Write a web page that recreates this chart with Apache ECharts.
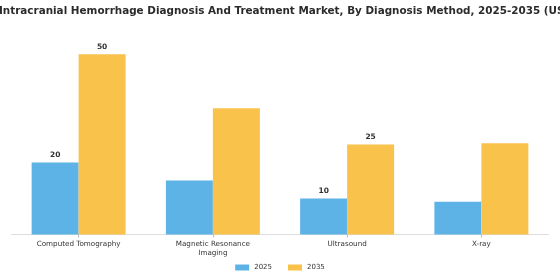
<!DOCTYPE html>
<html>
<head>
<meta charset="utf-8">
<script src="https://cdn.jsdelivr.net/npm/echarts@6/dist/echarts.min.js"></script>
<style>
html,body{margin:0;padding:0;background:#fff;}
#c{width:560px;height:280px;}
</style>
</head>
<body>
<div id="c"></div>
<script>
const titleText = "Intracranial Hemorrhage Diagnosis And Treatment Market, By Diagnosis Method, 2025-2035 (USD Billion)";
const categories = ["Computed Tomography", "Magnetic Resonance Imaging", "Ultrasound", "X-ray"];
const tickLabels = ["Computed Tomography", "Magnetic Resonance\nImaging", "Ultrasound", "X-ray"];
const seriesNames = ["2025", "2035"];
const values2025 = [20, 15, 10, 9.1];
const values2035 = [50, 35, 25, 25.3];
const labeledCategories = ["Computed Tomography", "Ultrasound"];

const colors = ["#5DB2E6", "#F8C24B"];

function buildData(vals) {
  return vals.map((v, i) => ({
    value: v,
    label: { show: labeledCategories.includes(categories[i]) }
  }));
}

const labelStyle = { position: 'top', distance: 3, fontFamily: 'DejaVu Sans', fontWeight: 'bold', fontSize: 7.5, color: '#333' };

const chart = echarts.init(document.getElementById('c'), null, { renderer: 'canvas' });
chart.setOption({
  animation: false,
  backgroundColor: '#ffffff',
  title: {
    text: titleText,
    left: -1,
    top: 6,
    padding: 0,
    textStyle: { fontFamily: 'DejaVu Sans', fontWeight: 'bold', fontSize: 10.4, color: '#2b2b2b' }
  },
  legend: {
    data: seriesNames,
    bottom: 4,
    left: 'center',
    itemWidth: 14,
    itemHeight: 6,
    itemGap: 16,
    icon: 'rect',
    textStyle: { fontFamily: 'DejaVu Sans', fontSize: 7, color: '#333' }
  },
  grid: { left: 11.5, right: 11.5, top: 36.3, bottom: 45.5, containLabel: false },
  xAxis: {
    type: 'category',
    data: categories,
    axisLine: { lineStyle: { color: '#dddddd', width: 1 } },
    axisTick: { show: true, alignWithLabel: true, length: 3, lineStyle: { color: '#bbbbbb' } },
    axisLabel: {
      interval: 0,
      margin: 5,
      fontFamily: 'DejaVu Sans',
      fontSize: 7.2,
      color: '#333',
      lineHeight: 9,
      formatter: (v, i) => tickLabels[i]
    }
  },
  yAxis: {
    type: 'value',
    min: 0,
    max: 55,
    show: false,
    splitLine: { show: false }
  },
  series: [
    {
      name: seriesNames[0],
      type: 'bar',
      data: buildData(values2025),
      itemStyle: { color: colors[0] },
      barGap: '0%',
      barCategoryGap: '30%',
      label: labelStyle
    },
    {
      name: seriesNames[1],
      type: 'bar',
      data: buildData(values2035),
      itemStyle: { color: colors[1] },
      barGap: '0%',
      barCategoryGap: '30%',
      label: labelStyle
    }
  ]
});
</script>
</body>
</html>
